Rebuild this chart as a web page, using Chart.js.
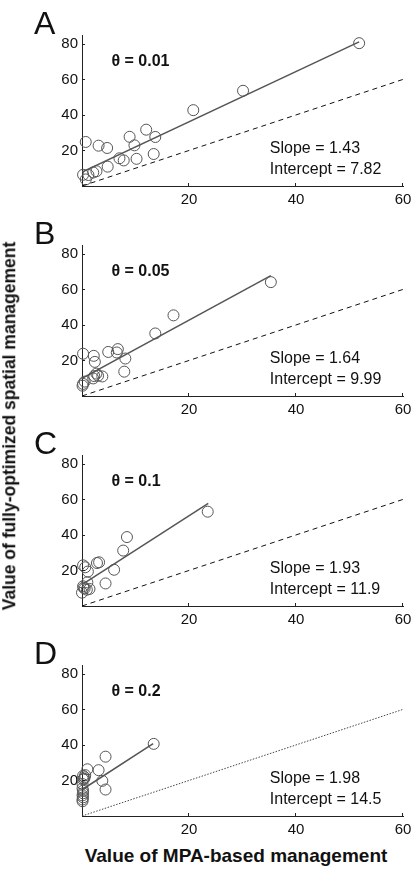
<!DOCTYPE html>
<html>
<head>
<meta charset="utf-8">
<script src="https://cdn.jsdelivr.net/npm/chart.js@4.4.1/dist/chart.umd.min.js"></script>
<style>
      body { margin: 0; background: #fff; }
      #wrap { position: relative; width: 411px; height: 870px; font-family: "Liberation Sans", Arial, sans-serif; color: #111; }
      #wrap canvas { position: absolute; left: 0; }
      .title { position: absolute; font-weight: bold; font-size: 18px; line-height: 1; white-space: nowrap; }
</style>
</head>
<body>
<div id="wrap">
      <canvas id="panel0" width="411" height="210" style="top:0px"></canvas>
      <canvas id="panel1" width="411" height="210" style="top:210px"></canvas>
      <canvas id="panel2" width="411" height="210" style="top:420px"></canvas>
      <canvas id="panel3" width="411" height="210" style="top:630px"></canvas>
      <div class="title" style="left:236px;top:855px;font-size:19px;transform:translate(-50%,-50%)">Value of MPA-based management</div>
      <div class="title" style="left:10px;top:426px;font-size:17.5px;transform:translate(-50%,-50%) rotate(-90deg)">Value of fully-optimized spatial management</div>
</div>
<script>
const panelLetters = ['A', 'B', 'C', 'D'];
const thetaLabels = ['θ = 0.01', 'θ = 0.05', 'θ = 0.1', 'θ = 0.2'];
const slopeLabels = ['1.43', '1.64', '1.93', '1.98'];
const interceptLabels = ['7.82', '9.99', '11.9', '14.5'];
const xTicks = [20, 40, 60];
const yTicks = [20, 40, 60, 80];

// MPA-based value (x) and fully-optimized value (y), one pair per panel
const mpaA = [51.8, 30.1, 20.8, 12.0, 13.7, 8.9, 9.8, 0.7, 3.1, 4.7, 13.4, 7.0, 7.8, 10.2, 4.8, 2.7, 2.1, 1.2, 0.2, 0.7];
const optA = [80.4, 53.6, 42.7, 31.7, 27.6, 27.7, 22.9, 24.8, 22.7, 21.4, 18.0, 15.6, 14.4, 15.3, 10.9, 8.3, 7.6, 6.2, 6.3, 3.7];

const mpaB = [35.3, 17.1, 13.7, 0.2, 2.2, 2.4, 4.9, 6.7, 6.5, 8.1, 7.9, 2.3, 3.0, 3.8, 2.1, 2.7, 0.2, 0.1, 0.5];
const optB = [64.1, 45.4, 35.2, 23.8, 22.6, 19.2, 24.8, 26.4, 24.5, 21.1, 13.7, 11.2, 11.4, 11.0, 9.9, 12.6, 6.8, 5.8, 8.1];

const mpaC = [23.5, 8.4, 7.7, 3.2, 2.8, 6.0, 4.4, 0.2, 0.6, 1.1, 1.0, 0.2, 0.3, 0.0, 1.4, 0.9, 0.5];
const optC = [53.1, 38.8, 31.2, 24.6, 24.2, 20.4, 12.7, 22.9, 21.8, 19.4, 13.3, 11.1, 10.3, 7.5, 9.6, 9.2, 9.9];

const mpaD = [13.4, 4.4, 1.0, 3.1, 3.8, 4.4, 0.2, 0.5, 0.2, 0.1, 0.1, 0.2, 0.1, 0.2, 0.1, 0.1, 0.2, 0.4, 0.6];
const optD = [40.6, 33.4, 26.3, 25.8, 19.8, 14.9, 22.6, 21.8, 20.6, 18.0, 15.5, 12.8, 11.6, 10.5, 9.3, 8.3, 14.2, 21.0, 23.0];

// fitted line end points
const fitXA = [0, 51.8], fitYA = [7.9, 81.1];
const fitXB = [0, 35.3], fitYB = [10.0, 67.8];
const fitXC = [0, 23.6], fitYC = [12.0, 57.8];
const fitXD = [0.2, 13.3], fitYD = [15.2, 40.8];

// 1:1 reference line
const parityX = [0, 60], parityY = [0, 60];

const mpaValues = [mpaA, mpaB, mpaC, mpaD];
const optValues = [optA, optB, optC, optD];
const fitX = [fitXA, fitXB, fitXC, fitXD];
const fitY = [fitYA, fitYB, fitYC, fitYD];

const FONT = '"Liberation Sans", Arial, sans-serif';

function toPoints(xs, ys)
{
      return xs.map((v, i) => ({ x: v, y: ys[i] }));
}

const panelText = {
      id: 'panelText',
      afterDraw(chart, args, opts)
      {
            const ctx = chart.ctx;
            const x = chart.scales.x;
            const y = chart.scales.y;
            ctx.save();

            // inward tick marks
            ctx.strokeStyle = '#222';
            ctx.lineWidth = 1;
            xTicks.forEach(v =>
            {
                  const px = Math.round(x.getPixelForValue(v)) - 0.5;
                  ctx.beginPath();
                  ctx.moveTo(px, y.bottom);
                  ctx.lineTo(px, y.bottom - 3);
                  ctx.stroke();
            });
            yTicks.forEach(v =>
            {
                  const py = Math.round(y.getPixelForValue(v)) + 0.5;
                  ctx.beginPath();
                  ctx.moveTo(x.left, py);
                  ctx.lineTo(x.left + 3, py);
                  ctx.stroke();
            });

            ctx.fillStyle = '#111';
            ctx.textAlign = 'left';

            ctx.font = '32px ' + FONT;
            ctx.textBaseline = 'alphabetic';
            ctx.fillText(opts.letter, 34, y.top - 1.5);

            ctx.textBaseline = 'middle';
            ctx.font = 'bold 16px ' + FONT;
            ctx.fillText(opts.theta, x.getPixelForValue(5.5), y.getPixelForValue(70));

            ctx.font = '16px ' + FONT;
            ctx.fillText('Slope = ' + opts.slope, x.getPixelForValue(35.1), y.getPixelForValue(21));
            ctx.fillText('Intercept = ' + opts.intercept, x.getPixelForValue(35.1), y.getPixelForValue(9.2));

            ctx.restore();
      }
};

for (let i = 0; i < 4; i++)
{
      const config = {
            type: 'scatter',
            data: {
                  datasets: [
                        {
                              data: toPoints(parityX, parityY),
                              showLine: true,
                              pointRadius: 0,
                              borderColor: i === 3 ? '#444' : '#111',
                              borderWidth: 1,
                              borderDash: i === 3 ? [1.5, 1.5] : [5, 4]
                        },
                        {
                              data: toPoints(fitX[i], fitY[i]),
                              showLine: true,
                              pointRadius: 0,
                              borderColor: '#555',
                              borderWidth: 1.5
                        },
                        {
                              data: toPoints(mpaValues[i], optValues[i]),
                              clip: false,
                              pointStyle: 'circle',
                              pointRadius: 5.5,
                              pointBackgroundColor: 'rgba(0,0,0,0)',
                              pointBorderColor: '#555',
                              pointBorderWidth: 1
                        }
                  ]
            },
            options: {
                  responsive: false,
                  animation: false,
                  layout: { padding: { top: 35, right: 8, bottom: 0, left: 0 } },
                  scales: {
                        x: {
                              type: 'linear',
                              min: 0,
                              max: 60,
                              afterBuildTicks: s => { s.ticks = xTicks.map(v => ({ value: v })); },
                              afterFit: s => { s.height = 24; s.paddingLeft = 0; s.paddingRight = 0; },
                              grid: { display: false, drawTicks: false },
                              border: { display: true, color: '#222', width: 1 },
                              ticks: { padding: 5, color: '#111', font: { family: FONT, size: 15 } }
                        },
                        y: {
                              type: 'linear',
                              min: 0,
                              max: 85,
                              afterBuildTicks: s => { s.ticks = yTicks.map(v => ({ value: v })); },
                              afterFit: s => { s.width = 82; s.paddingTop = 0; s.paddingBottom = 0; },
                              grid: { display: false, drawTicks: false },
                              border: { display: true, color: '#222', width: 1 },
                              ticks: { padding: 4, color: '#111', font: { family: FONT, size: 15 } }
                        }
                  },
                  plugins: {
                        legend: { display: false },
                        tooltip: { enabled: false },
                        panelText: {
                              letter: panelLetters[i],
                              theta: thetaLabels[i],
                              slope: slopeLabels[i],
                              intercept: interceptLabels[i]
                        }
                  }
            },
            plugins: [panelText]
      };

      new Chart(document.getElementById('panel' + i), config);
}
</script>
</body>
</html>
